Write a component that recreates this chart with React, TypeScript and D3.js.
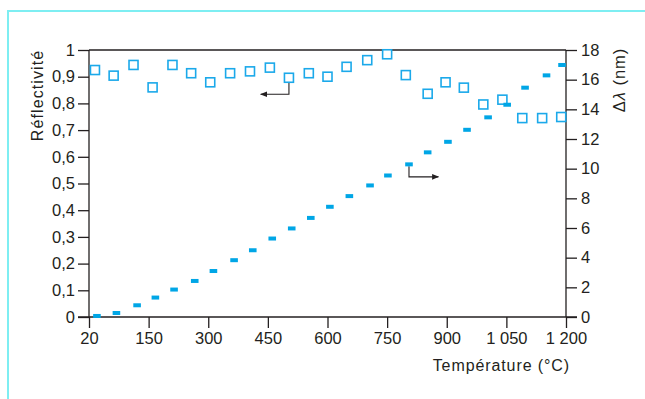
import React, { useEffect, useRef } from "react";
import * as d3 from "d3";

// Reflectivity (squares, left axis)
const reflTemps = [15, 62, 112, 160, 210, 257, 305, 355, 405, 455, 503, 553, 600, 648, 700, 750, 797, 852, 897, 943, 992, 1040, 1090, 1140, 1188];
const reflValues = [0.925, 0.904, 0.944, 0.86, 0.944, 0.913, 0.879, 0.913, 0.92, 0.934, 0.896, 0.913, 0.9, 0.937, 0.962, 0.984, 0.906, 0.836, 0.879, 0.859, 0.796, 0.814, 0.745, 0.745, 0.749];

// Wavelength shift (dashes, right axis)
const shiftTemps = [20, 69, 121, 167, 214, 266, 313, 365, 412, 461, 510, 558, 606, 655, 707, 752, 805, 852, 903, 951, 1004, 1052, 1097, 1151, 1190];
const shiftValues = [0.07, 0.27, 0.79, 1.31, 1.85, 2.43, 3.1, 3.83, 4.5, 5.29, 5.97, 6.68, 7.43, 8.15, 8.87, 9.54, 10.29, 11.1, 11.81, 12.62, 13.46, 14.31, 15.46, 16.29, 16.99];

const xTicks = [0, 150, 300, 450, 600, 750, 900, 1050, 1200];
const xTickLabels = ["20", "150", "300", "450", "600", "750", "900", "1 050", "1 200"];
const leftTicks = [0, 0.1, 0.2, 0.3, 0.4, 0.5, 0.6, 0.7, 0.8, 0.9, 1];
const rightTicks = [0, 2, 4, 6, 8, 10, 12, 14, 16, 18];

const App = () => {
  const ref = useRef<SVGSVGElement>(null);

  useEffect(() => {
    const width = 645;
    const height = 399;
    const margin = { top: 50, right: 79, bottom: 82, left: 89 };
    const ink = "#231f20";
    const blue = "#1ba9ea";
    const font = "'Liberation Sans', Arial, sans-serif";

    const svg = d3.select(ref.current).attr("width", width).attr("height", height);
    svg.selectAll("*").remove();

    const x = d3.scaleLinear().domain([0, 1200]).range([margin.left, width - margin.right]);
    const yL = d3.scaleLinear().domain([0, 1]).range([height - margin.bottom, margin.top]);
    const yR = d3.scaleLinear().domain([0, 18]).range([height - margin.bottom, margin.top]);
    const [x0, x1] = x.range();
    const [yb, yt] = yL.range();

    // frame (left + top light cyan lines)
    svg.append("path")
      .attr("d", `M8,${height} L8,11 L${width},11`)
      .attr("fill", "none")
      .attr("stroke", "#7eeef2")
      .attr("stroke-width", 2);

    // top border line
    svg.append("line")
      .attr("x1", x0).attr("x2", x1).attr("y1", yt).attr("y2", yt)
      .attr("stroke", ink).attr("stroke-width", 1.3);

    // left axis
    const left = svg.append("g")
      .attr("transform", `translate(${x0},0)`)
      .call(d3.axisLeft(yL).tickValues(leftTicks).tickSize(11).tickPadding(3)
        .tickFormat(d => String(d).replace(".", ",")));
    // right axis
    const right = svg.append("g")
      .attr("transform", `translate(${x1},0)`)
      .call(d3.axisRight(yR).tickValues(rightTicks).tickSize(11).tickPadding(4));
    // bottom axis
    const bottom = svg.append("g")
      .attr("transform", `translate(0,${yb})`)
      .call(d3.axisBottom(x).tickValues(xTicks).tickSize(11).tickPadding(4)
        .tickFormat((d, i) => xTickLabels[i]));

    [left, right, bottom].forEach(g => {
      g.select(".domain").remove();
      g.selectAll("line").attr("stroke", ink).attr("stroke-width", 1.3);
      g.selectAll("text")
        .attr("fill", ink)
        .style("font-family", font)
        .style("font-size", "16.5px");
    });

    // axis lines
    svg.append("line").attr("x1", x0).attr("x2", x0).attr("y1", yt).attr("y2", yb)
      .attr("stroke", ink).attr("stroke-width", 1.3);
    svg.append("line").attr("x1", x1).attr("x2", x1).attr("y1", yt).attr("y2", yb)
      .attr("stroke", ink).attr("stroke-width", 1.3);
    svg.append("line").attr("x1", x0 - 11).attr("x2", x1 + 11).attr("y1", yb).attr("y2", yb)
      .attr("stroke", ink).attr("stroke-width", 1.3);

    // axis titles
    svg.append("text")
      .attr("transform", `translate(43,${(yt + 137) / 2 + 2}) rotate(-90)`)
      .attr("text-anchor", "middle")
      .attr("fill", ink)
      .style("font-family", font)
      .style("font-size", "16px")
      .style("letter-spacing", "1.1px")
      .text("Réflectivité");

    const dl = svg.append("text")
      .attr("transform", `translate(625,80) rotate(-90)`)
      .attr("text-anchor", "middle")
      .attr("fill", ink)
      .style("font-family", font)
      .style("font-size", "16.5px")
      .style("letter-spacing", "1px");
    dl.append("tspan").text("Δ");
    dl.append("tspan").style("font-style", "italic").text("λ");
    dl.append("tspan").text(" (nm)");

    svg.append("text")
      .attr("x", 570).attr("y", 371)
      .attr("text-anchor", "end")
      .attr("fill", ink)
      .style("font-family", font)
      .style("font-size", "16px")
      .style("letter-spacing", "0.9px")
      .text("Température (°C)");

    // arrow marker
    const defs = svg.append("defs");
    defs.append("marker")
      .attr("id", "arr")
      .attr("viewBox", "0 0 10 10")
      .attr("refX", 9).attr("refY", 5)
      .attr("markerWidth", 7).attr("markerHeight", 7)
      .attr("markerUnits", "userSpaceOnUse")
      .attr("orient", "auto")
      .append("path").attr("d", "M0,1 L10,5 L0,9 Z").attr("fill", ink);

    // annotation arrows
    const i1 = 10;
    svg.append("path")
      .attr("d", `M${x(reflTemps[i1])},${yL(reflValues[i1]) + 5} V${yL(0.834)} H${x(432)}`)
      .attr("fill", "none").attr("stroke", ink).attr("stroke-width", 1.1)
      .attr("marker-end", "url(#arr)");
    const i2 = 16;
    svg.append("path")
      .attr("d", `M${x(shiftTemps[i2])},${yR(shiftValues[i2]) + 2} V${yR(9.45)} H${x(879)}`)
      .attr("fill", "none").attr("stroke", ink).attr("stroke-width", 1.1)
      .attr("marker-end", "url(#arr)");

    // squares
    const sq = 9;
    svg.selectAll("rect.refl")
      .data(reflTemps)
      .enter()
      .append("rect")
      .attr("class", "refl")
      .attr("x", d => x(d) - sq / 2)
      .attr("y", (d, i) => yL(reflValues[i]) - sq / 2)
      .attr("width", sq).attr("height", sq)
      .attr("fill", "white")
      .attr("stroke", blue)
      .attr("stroke-width", 1.6);

    // dashes
    svg.selectAll("rect.shift")
      .data(shiftTemps)
      .enter()
      .append("rect")
      .attr("class", "shift")
      .attr("x", d => x(d) - 3.8)
      .attr("y", (d, i) => yR(shiftValues[i]) - 2)
      .attr("width", 7.6).attr("height", 4)
      .attr("fill", "#00a6e6");
  }, []);

  return (
    <div style={{ position: "absolute", left: 0, top: 0 }}>
      <svg ref={ref}></svg>
    </div>
  );
};

export default App;
